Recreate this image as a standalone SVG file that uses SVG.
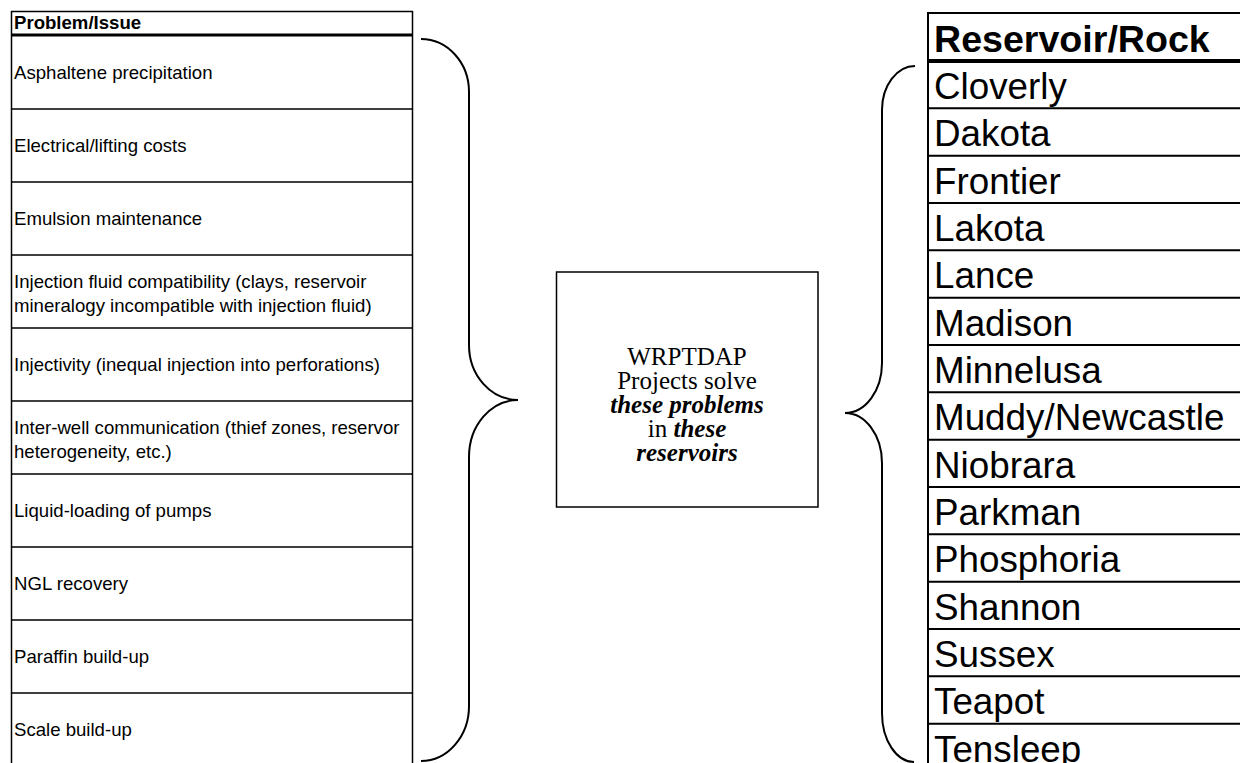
<svg xmlns="http://www.w3.org/2000/svg" width="1240" height="763" viewBox="0 0 1240 763">
<style>
.bg{fill:#fff}
.ln{stroke:#000;stroke-width:1.5;fill:none}
.lnr{stroke:#000;stroke-width:2;fill:none}
.thick{stroke:#000;stroke-width:3;fill:none}
.brace{stroke:#000;stroke-width:2;fill:none}
.lt{font-family:"Liberation Sans",Arial,sans-serif;font-size:18.6px;fill:#000}
.lh{font-family:"Liberation Sans",Arial,sans-serif;font-size:18.6px;font-weight:bold;fill:#000}
.rt{font-family:"Liberation Sans",Arial,sans-serif;font-size:36.8px;fill:#000}
.rh{font-family:"Liberation Sans",Arial,sans-serif;font-size:37.6px;font-weight:bold;fill:#000}
.mt{font-family:"Liberation Serif","Times New Roman",serif;font-size:25px;fill:#000}
.bi{font-weight:bold;font-style:italic}
</style>
<rect class="bg" x="0" y="0" width="1240" height="763"/>

<g id="problem-table">
  <path class="ln" d="M11.5,11 L11.5,763 M412.5,11 L412.5,763 M11,11.5 L413,11.5"/>
  <path class="thick" d="M11,35 L413,35"/>
  <path class="ln" d="M11,109 L413,109 M11,182 L413,182 M11,255 L413,255 M11,328 L413,328 M11,401 L413,401 M11,474 L413,474 M11,547 L413,547 M11,620 L413,620 M11,693 L413,693"/>
  <text class="lh" x="14" y="29">Problem/Issue</text>
  <text class="lt" x="14" y="79">Asphaltene precipitation</text>
  <text class="lt" x="14" y="152">Electrical/lifting costs</text>
  <text class="lt" x="14" y="225">Emulsion maintenance</text>
  <text class="lt" x="14" y="288">Injection fluid compatibility (clays, reservoir</text>
  <text class="lt" x="14" y="312">mineralogy incompatible with injection fluid)</text>
  <text class="lt" x="14" y="371">Injectivity (inequal injection into perforations)</text>
  <text class="lt" x="14" y="434">Inter-well communication (thief zones, reservor</text>
  <text class="lt" x="14" y="458">heterogeneity, etc.)</text>
  <text class="lt" x="14" y="517">Liquid-loading of pumps</text>
  <text class="lt" x="14" y="590">NGL recovery</text>
  <text class="lt" x="14" y="663">Paraffin build-up</text>
  <text class="lt" x="14" y="736">Scale build-up</text>
</g>

<g id="connectors">
  <path id="left-brace" class="brace" d="M421,39 A48,53 0 0 1 469,92 L469,345 A49,55 0 0 0 518,400 A49,57 0 0 0 469,457 L469,706 A48,55 0 0 1 421,761"/>
  <path id="right-brace" class="brace" d="M915,66 A33,44 0 0 0 882,110 L882,363 A37,50 0 0 1 845,413 A37,50 0 0 1 882,463 L882,713 A32,49 0 0 0 914,762"/>
</g>

<g id="center-box">
  <rect class="ln" x="556.5" y="272" width="261.5" height="235"/>
  <text class="mt" x="687" y="365" text-anchor="middle">WRPTDAP</text>
  <text class="mt" x="687" y="389" text-anchor="middle">Projects solve</text>
  <text class="mt bi" x="687" y="413" text-anchor="middle">these problems</text>
  <text class="mt" x="687" y="437" text-anchor="middle">in <tspan class="bi">these</tspan></text>
  <text class="mt bi" x="687" y="461" text-anchor="middle">reservoirs</text>
</g>

<g id="reservoir-table">
  <path class="lnr" d="M928,12 L928,763 M927,13 L1240,13"/>
  <path class="thick" d="M927,61 L1240,61" style="stroke-width:4"/>
  <path class="lnr" d="M927,108.3 L1240,108.3 M927,155.7 L1240,155.7 M927,203 L1240,203 M927,250.3 L1240,250.3 M927,297.7 L1240,297.7 M927,345 L1240,345 M927,392.3 L1240,392.3 M927,439.7 L1240,439.7 M927,487 L1240,487 M927,534.3 L1240,534.3 M927,581.7 L1240,581.7 M927,629 L1240,629 M927,676.3 L1240,676.3 M927,723.7 L1240,723.7"/>
  <text class="rh" x="934" y="52">Reservoir/Rock</text>
  <text class="rt" x="934" y="99">Cloverly</text>
  <text class="rt" x="934" y="146.3">Dakota</text>
  <text class="rt" x="934" y="193.7">Frontier</text>
  <text class="rt" x="934" y="241">Lakota</text>
  <text class="rt" x="934" y="288.3">Lance</text>
  <text class="rt" x="934" y="335.7">Madison</text>
  <text class="rt" x="934" y="383">Minnelusa</text>
  <text class="rt" x="934" y="430.3">Muddy/Newcastle</text>
  <text class="rt" x="934" y="477.7">Niobrara</text>
  <text class="rt" x="934" y="525">Parkman</text>
  <text class="rt" x="934" y="572.3">Phosphoria</text>
  <text class="rt" x="934" y="619.7">Shannon</text>
  <text class="rt" x="934" y="667">Sussex</text>
  <text class="rt" x="934" y="714.3">Teapot</text>
  <text class="rt" x="934" y="761.7">Tensleep</text>
</g>
</svg>
